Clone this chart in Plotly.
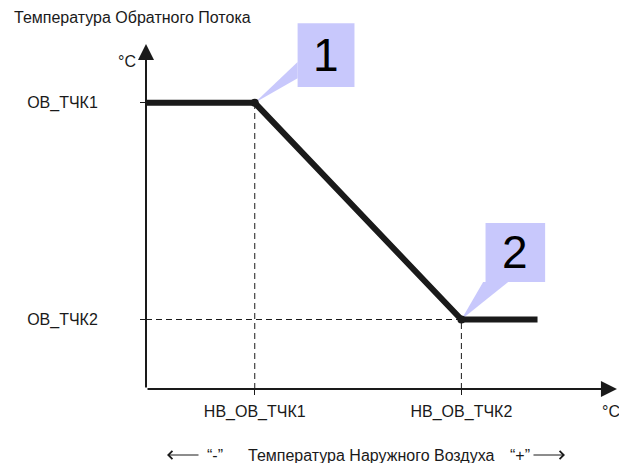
#!/usr/bin/env python3
"""
Кривая температуры обратного потока в зависимости от наружного воздуха
"""

import plotly.graph_objects as go

# Точки излома (условные единицы)
x_labels = ["НВ_ОВ_ТЧК1", "НВ_ОВ_ТЧК2"]
y_labels = ["ОВ_ТЧК1", "ОВ_ТЧК2"]
break_x = [1.0, 2.9]
break_y = [70, 17]
point_names = ["1", "2"]

# Кривая целиком
curve_x = [0, 1.0, 2.9, 3.6]
curve_y = [70, 70, 17, 17]

INK = "#1a1a1a"
BOX = "#c8c8fc"
FONT = "Liberation Sans, Arial, sans-serif"

# Положение выносок относительно точки излома: (dx0, dx1, dy0, dy1), клин
CALLOUTS = [
    dict(box=(0.394, 0.917, 3.9, 19.5), wedge=[(0.394, 10.0), (0.394, 6.0), (0.0, 0.0)]),
    dict(box=(0.222, 0.77, 9.2, 23.6), wedge=[(0.20, 9.2), (0.43, 9.2), (0.0, 0.0)]),
]


def build_figure():
    """Собирает график"""
    fig = go.Figure()

    # Пунктирные проекции
    for bx, by in zip(break_x, break_y):
        fig.add_trace(go.Scatter(x=[bx, bx], y=[0, by], mode="lines",
                                 line=dict(color=INK, width=1, dash="6px,4px"),
                                 hoverinfo="skip"))
        fig.add_trace(go.Scatter(x=[0, bx], y=[by, by], mode="lines",
                                 line=dict(color=INK, width=1, dash="6px,4px"),
                                 hoverinfo="skip"))

    # Выноски
    for (bx, by), name, c in zip(zip(break_x, break_y), point_names, CALLOUTS):
        dx0, dx1, dy0, dy1 = c["box"]
        fig.add_shape(type="rect", xref="x", yref="y",
                      x0=bx + dx0, x1=bx + dx1, y0=by + dy0, y1=by + dy1,
                      fillcolor=BOX, line=dict(width=0), layer="below")
        pts = [(bx + dx, by + dy) for dx, dy in c["wedge"]]
        path = "M {},{} L {},{} L {},{} Z".format(*[v for p in pts for v in p])
        fig.add_shape(type="path", xref="x", yref="y", path=path,
                      fillcolor=BOX, line=dict(width=0), layer="below")
        fig.add_annotation(x=bx + (dx0 + dx1) / 2, y=by + (dy0 + dy1) / 2,
                           xref="x", yref="y", text=name, showarrow=False,
                           font=dict(family=FONT, size=46, color="#000000"))

    # Сама кривая
    fig.add_trace(go.Scatter(x=curve_x, y=curve_y, mode="lines",
                             line=dict(color=INK, width=6), hoverinfo="skip"))
    fig.add_trace(go.Scatter(x=break_x, y=break_y, mode="markers",
                             marker=dict(color=INK, size=8), hoverinfo="skip"))

    # Оси со стрелками
    fig.add_annotation(x=0, y=84.4, ax=0, ay=0, xref="x", yref="y", axref="x", ayref="y",
                       text="", showarrow=True, arrowhead=2, arrowsize=1.6,
                       arrowwidth=2, arrowcolor=INK, standoff=0)
    fig.add_annotation(x=4.33, y=0, ax=0, ay=0, xref="x", yref="y", axref="x", ayref="y",
                       text="", showarrow=True, arrowhead=2, arrowsize=1.6,
                       arrowwidth=2, arrowcolor=INK, standoff=0)

    # Подписи (вне области графика -> в долях бумаги)
    txt = dict(family=FONT, size=16, color=INK)
    labels = [
        ("Температура Обратного Потока", -0.284, 0.954, "left"),
        ("°C", -0.017, 0.843, "right"),
        ("°C", 0.962, -0.0566, "left"),
        ("“-”", 0.125, -0.170, "left"),
        ("Температура Наружного Воздуха", 0.212, -0.170, "left"),
        ("“+”", 0.767, -0.170, "left"),
    ]
    for text, x, y, anchor in labels:
        fig.add_annotation(x=x, y=y, xref="paper", yref="paper", text=text,
                           showarrow=False, xanchor=anchor, yanchor="middle", font=txt)

    # Стрелки "минус" / "плюс" под подписью оси
    for tip, tail in [(0.0445, 33), (0.8877, -33)]:
        fig.add_annotation(x=tip, y=-0.1697, xref="paper", yref="paper", ax=tail, ay=0,
                           text="", showarrow=True, arrowhead=4, arrowsize=1.6,
                           arrowwidth=1, arrowcolor=INK, standoff=0)

    fig.update_layout(
        width=619, height=463,
        margin=dict(l=146, r=1, t=0, b=74),
        paper_bgcolor="white", plot_bgcolor="white",
        showlegend=False,
        xaxis=dict(range=[0, 4.34], showgrid=False, zeroline=False, showline=False,
                   tickvals=break_x, ticktext=x_labels, ticks="outside", ticklen=5,
                   tickcolor=INK, tickfont=txt, ticklabelstandoff=3),
        yaxis=dict(range=[0, 95.16], showgrid=False, zeroline=False, showline=False,
                   tickvals=break_y, ticktext=y_labels, ticks="outside", ticklen=5,
                   tickcolor=INK, tickfont=txt, ticklabelstandoff=39),
    )
    return fig


def main():
    fig = build_figure()
    # убрать отступы body, чтобы график стоял в углу окна
    fig.write_html("out.html", config={"displayModeBar": False},
                   post_script="document.body.style.margin='0';")


if __name__ == "__main__":
    main()
